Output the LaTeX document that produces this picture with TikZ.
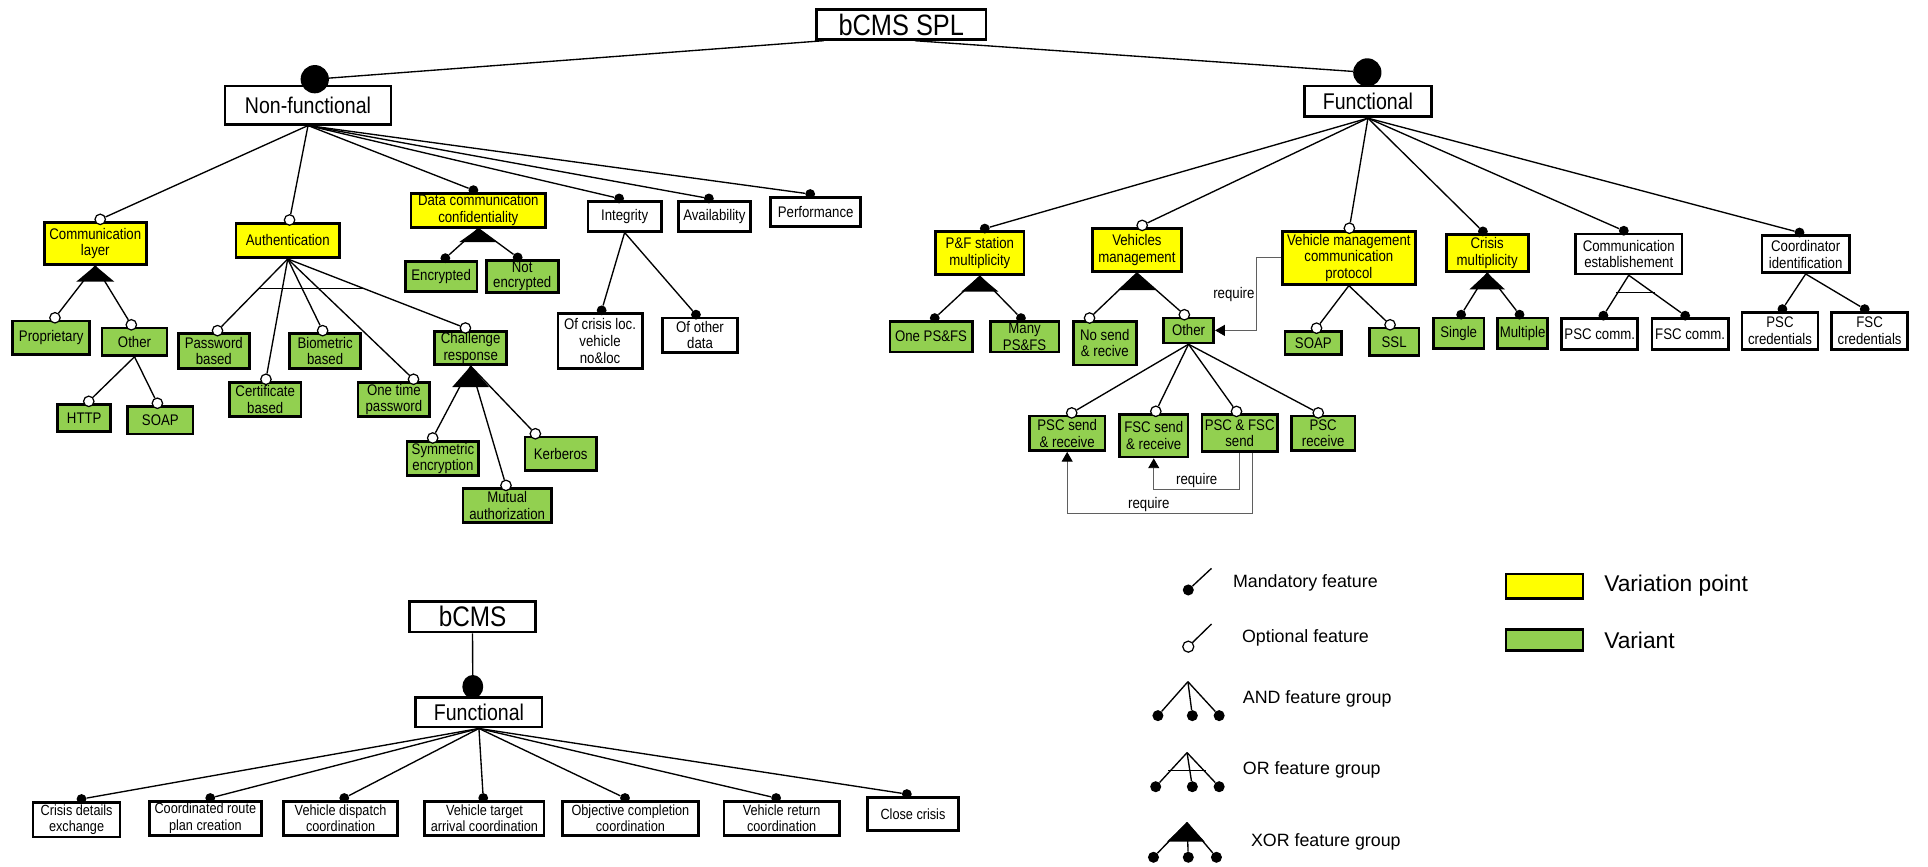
\documentclass[tikz,border=0pt]{standalone}
\usepackage{fontspec}
\setmainfont{Liberation Sans}
\newfontfamily\featfont[FakeStretch=0.86]{Liberation Sans}
\definecolor{VPYellow}{RGB}{255,255,0}
\definecolor{VarGreen}{RGB}{146,208,80}
\definecolor{ReqGray}{RGB}{95,95,95}
\usepackage{tikz}
\usetikzlibrary{arrows.meta, shapes.geometric, positioning, calc}

\tikzset{
  feat/.style={draw, line width=2.2pt, fill=white, align=center, inner sep=1pt,
    font=\featfont\fontsize{12.5}{13.6}\selectfont},
  vpoint/.style={feat, fill=VPYellow},
  variant/.style={feat, fill=VarGreen},
  taskbox/.style={feat, font=\featfont\fontsize{12}{13.6}\selectfont},
  sz/.style 2 args={minimum width=#1pt-2pt, minimum height=#2pt-2pt},
  fline/.style={line width=1.1pt},
  mdot/.style={circle, fill=black, inner sep=0pt, minimum size=8pt},
  odot/.style={circle, draw, fill=white, line width=1pt, inner sep=0pt, minimum size=8.5pt},
  bigdot/.style={ellipse, fill=black, inner sep=0pt, minimum width=23pt, minimum height=23pt},
  orbar/.style={line width=0.7pt},
  req/.style={draw=ReqGray, line width=0.8pt, -{Triangle[length=8pt,width=9pt,color=black]}},
  reqlbl/.style={font=\featfont\fontsize{12.5}{13}\selectfont, inner sep=1pt, text=black},
  lgtext/.style={font=\fontsize{14.5}{17}\selectfont, inner sep=1pt},
  lgbig/.style={font=\fontsize{18.5}{21}\selectfont, inner sep=1pt}
}

\begin{document}
\begin{tikzpicture}[x=1pt, y=-1pt]
\path[fill=white] (0,0) rectangle (1568,705);

\node[feat, sz={140}{26}, font=\featfont\fontsize{24}{26}\selectfont] (spl) at (733,20) {bCMS SPL};
\node[feat, sz={137}{33}, font=\featfont\fontsize{18.5}{20}\selectfont] (nonf) at (250.5,85.5) {Non-functional};
\node[feat, sz={105}{27}, font=\featfont\fontsize{18.5}{20}\selectfont] (func) at (1112.5,82.5) {Functional};

% non-functional side
\node[vpoint, sz={85}{36}] (comm) at (77.5,198) {Communication\\layer};
\node[vpoint, sz={86}{30}] (auth) at (234,195.5) {Authentication};
\node[vpoint, sz={111.5}{29.5}] (dcc) at (389,171) {Data communication\\confidentiality};
\node[feat, sz={61.5}{26}] (integ) at (508,176) {Integrity};
\node[feat, sz={60.6}{26}] (avail) at (581,176) {Availability};
\node[feat, sz={75}{26}] (perf) at (663.4,172.4) {Performance};

\node[variant, sz={64.7}{29.5}] (prop) at (41.7,274.8) {Proprietary};
\node[variant, sz={55}{24.3}] (other1) at (109.4,277.9) {Other};
\node[variant, sz={45}{24}] (http) at (68.5,340) {HTTP};
\node[variant, sz={55}{24.5}] (soap1) at (130.4,341.8) {SOAP};
\node[variant, sz={60}{30}] (pwd) at (173.9,285.5) {Password\\based};
\node[variant, sz={60.4}{29.7}] (cert) at (215.7,324.9) {Certificate\\based};
\node[variant, sz={60}{30}] (bio) at (264.4,285.5) {Biometric\\based};
\node[variant, sz={60.5}{29.7}] (otp) at (320.3,324.9) {One time\\password};
\node[variant, sz={60.4}{29.3}] (chal) at (382.8,283) {Challenge\\response};
\node[variant, sz={60.4}{30}] (sym) at (360.2,372.8) {Symmetric\\encryption};
\node[variant, sz={74}{29.3}] (mutual) at (412.5,411) {Mutual\\authorization};
\node[variant, sz={60}{29.3}] (kerb) at (456,369) {Kerberos};
\node[variant, sz={60.4}{26.5}] (enc) at (358.8,224.8) {Encrypted};
\node[variant, sz={60.5}{26.5}, font=\featfont\fontsize{12.5}{12.5}\selectfont] (notenc) at (424.7,224.8) {Not\\encrypted};
\node[feat, sz={70.5}{46.4}] (crisloc) at (488,277.2) {Of crisis loc.\\vehicle\\no\&loc};
\node[feat, sz={63.4}{30}] (othdata) at (569.3,272.5) {Of other\\data};

% functional side
\node[vpoint, sz={74}{37}] (pf) at (796.9,206) {P\&F station\\multiplicity};
\node[vpoint, sz={74}{37}] (vm) at (924.6,203.4) {Vehicles\\management};
\node[vpoint, sz={110}{45}] (vmcp) at (1097,209.7) {Vehicle management\\communication\\protocol};
\node[vpoint, sz={68.7}{32}] (cm) at (1209.5,205.8) {Crisis\\multiplicity};
\node[feat, sz={88.7}{34.5}] (ce) at (1324.6,206.5) {Communication\\establishement};
\node[feat, sz={73}{32}] (ci) at (1468.5,206.7) {Coordinator\\identification};

\node[variant, sz={69}{27}] (onepf) at (757.2,273.8) {One PS\&FS};
\node[variant, sz={58}{27}] (manypf) at (833.3,273.8) {Many\\PS\&FS};
\node[variant, sz={53.4}{37.5}] (nosend) at (898.5,279) {No send\\\& recive};
\node[variant, sz={43}{22.3}] (other2) at (966.6,268.7) {Other};
\node[variant, sz={63.3}{30}] (pscsr) at (867.9,352.4) {PSC send\\\& receive};
\node[variant, sz={57.6}{36.6}] (fscsr) at (938.3,354.4) {FSC send\\\& receive};
\node[variant, sz={63.3}{32}] (pfsend) at (1008.2,352.2) {PSC \& FSC\\send};
\node[variant, sz={53.6}{30}] (pscr) at (1076.1,352.4) {PSC\\receive};
\node[variant, sz={48}{21}] (soap2) at (1068.1,279) {SOAP};
\node[variant, sz={42.4}{24.3}] (ssl) at (1133.8,277.9) {SSL};
\node[variant, sz={43}{27}] (single) at (1186.3,271) {Single};
\node[variant, sz={43}{27}] (multi) at (1238.3,271) {Multiple};
\node[feat, sz={64}{27}] (pscc) at (1301,271.8) {PSC comm.};
\node[feat, sz={64}{27}] (fscc) at (1374.5,271.8) {FSC comm.};
\node[feat, sz={64}{32}] (pscred) at (1447.6,269) {PSC\\credentials};
\node[feat, sz={63.5}{32}] (fscred) at (1520.5,269) {FSC\\credentials};

% bCMS product
\node[feat, sz={104.7}{27}, font=\featfont\fontsize{23}{24}\selectfont] (bcms) at (384.3,501.5) {bCMS};
\node[feat, sz={104.8}{26.3}, font=\featfont\fontsize{18.5}{20}\selectfont] (bfunc) at (389.5,579.2) {Functional};
\node[taskbox, sz={72.7}{30.4}] (cde) at (62.3,666.6) {Crisis details\\exchange};
\node[taskbox, sz={93.4}{29.8}] (crpc) at (167,665.5) {Coordinated route\\plan creation};
\node[taskbox, sz={94.4}{29.8}] (vdc) at (277,665.5) {Vehicle dispatch\\coordination};
\node[taskbox, sz={99}{29.8}] (vtac) at (394,665.5) {Vehicle target\\arrival coordination};
\node[taskbox, sz={112.6}{29.8}] (occ) at (512.7,665.5) {Objective completion\\coordination};
\node[taskbox, sz={96}{29.8}] (vrc) at (635.7,665.5) {Vehicle return\\coordination};
\node[taskbox, sz={76.3}{29}] (cc) at (742.5,661.9) {Close crisis};

% root links
\coordinate (spl-l) at ([xshift=7pt]spl.south west);
\coordinate (spl-r) at ([xshift=11pt]spl.south);
\node[bigdot] (nonf-d) at ([xshift=5.5pt, yshift=4.5pt]nonf.north) {};
\node[bigdot] (func-d) at ([xshift=-0.5pt, yshift=10pt]func.north) {};
\draw[fline] (spl-l) -- (nonf-d);
\draw[fline] (spl-r) -- (func-d);
\node[bigdot, minimum width=17pt, minimum height=19pt] (bfunc-d) at ([xshift=-5pt, yshift=7.5pt]bfunc.north) {};
\draw[fline] (bcms.south) -- (bfunc-d);

% feature links
\foreach \n/\st/\dx in {comm/odot/4, auth/odot/1.5, dcc/mdot/-4, integ/mdot/-4.5, avail/mdot/-4.5, perf/mdot/-4.5}{
  \node[\st] (\n-d) at ([xshift=\dx pt, yshift=1.5pt]\n.north) {};
  \draw[fline] (nonf.south) -- (\n-d);
}
\foreach \n/\dx in {prop/3, other1/-2.6}{
  \node[odot] (\n-d) at ([xshift=\dx pt, yshift=1.5pt]\n.north) {};
  \draw[fline] (comm.south) -- (\n-d);
}
\foreach \n/\dx in {http/3.7, soap1/-2.4}{
  \node[odot] (\n-d) at ([xshift=\dx pt, yshift=1.5pt]\n.north) {};
  \draw[fline] (other1.south) -- (\n-d);
}
\foreach \n/\dx in {pwd/3, cert/0.6, bio/-2, otp/16, chal/-4.3}{
  \node[odot] (\n-d) at ([xshift=\dx pt, yshift=1.5pt]\n.north) {};
  \draw[fline] (auth.south) -- (\n-d);
}
\foreach \n/\dx in {sym/-8.3, mutual/-1, kerb/-20.6}{
  \node[odot] (\n-d) at ([xshift=\dx pt, yshift=1.5pt]\n.north) {};
  \draw[fline] (chal.south) -- (\n-d);
}
\foreach \n/\dx in {enc/3.4, notenc/-3.7}{
  \node[mdot] (\n-d) at ([xshift=\dx pt, yshift=1.5pt]\n.north) {};
  \draw[fline] (dcc.south) -- (\n-d);
}
\foreach \n/\dx in {crisloc/1.3, othdata/-3.3}{
  \node[mdot] (\n-d) at ([xshift=\dx pt, yshift=1.5pt]\n.north) {};
  \draw[fline] (integ.south) -- (\n-d);
}

\foreach \n/\st/\dx in {pf/mdot/4, vm/odot/4.3, vmcp/odot/0.4, cm/mdot/-3.5, ce/mdot/-4, ci/mdot/-5}{
  \node[\st] (\n-d) at ([xshift=\dx pt, yshift=1.5pt]\n.north) {};
  \draw[fline] (func.south) -- (\n-d);
}
\foreach \n/\dx in {onepf/3, manypf/-3}{
  \node[mdot] (\n-d) at ([xshift=\dx pt, yshift=1.5pt]\n.north) {};
  \draw[fline] (pf.south) -- (\n-d);
}
\foreach \n/\dx in {nosend/-12.4, other2/-3.4}{
  \node[odot] (\n-d) at ([xshift=\dx pt, yshift=1.5pt]\n.north) {};
  \draw[fline] (vm.south) -- (\n-d);
}
\foreach \n/\dx in {pscsr/3.7, fscsr/1.7, pfsend/-2.6, pscr/-4}{
  \node[odot] (\n-d) at ([xshift=\dx pt, yshift=1.5pt]\n.north) {};
  \draw[fline] (other2.south) -- (\n-d);
}
\foreach \n/\dx in {soap2/2.6, ssl/-3.3}{
  \node[odot] (\n-d) at ([xshift=\dx pt, yshift=1.5pt]\n.north) {};
  \draw[fline] (vmcp.south) -- (\n-d);
}
\foreach \n/\dx in {single/2, multi/-2.5}{
  \node[mdot] (\n-d) at ([xshift=\dx pt, yshift=1.5pt]\n.north) {};
  \draw[fline] (cm.south) -- (\n-d);
}
\foreach \n/\dx in {pscc/3, fscc/-4}{
  \node[mdot] (\n-d) at ([xshift=\dx pt, yshift=1.5pt]\n.north) {};
  \draw[fline] (ce.south) -- (\n-d);
}
\foreach \n/\dx in {pscred/2, fscred/-4}{
  \node[mdot] (\n-d) at ([xshift=\dx pt, yshift=1.5pt]\n.north) {};
  \draw[fline] (ci.south) -- (\n-d);
}
\foreach \n/\dx in {cde/4, crpc/4, vdc/3, vtac/-1, occ/-4.4, vrc/-4.5, cc/-5}{
  \node[mdot] (\n-d) at ([xshift=\dx pt, yshift=1.5pt]\n.north) {};
  \draw[fline] (bfunc.south) -- (\n-d);
}

% xor and or groups
\fill (comm.south) -- ++(-15.5,13) -- ++(31,0) -- cycle;
\fill (chal.south) -- ++(-15,17) -- ++(30,0) -- cycle;
\fill (dcc.south) -- ++(-15.5,11) -- ++(31,0) -- cycle;
\fill (pf.south) -- ++(-15,12.5) -- ++(30,0) -- cycle;
\fill (vm.south) -- ++(-15.5,14) -- ++(31,0) -- cycle;
\fill (cm.south) -- ++(-14.5,13.5) -- ++(29,0) -- cycle;
\draw[orbar] ($(auth.south)+(-23,24)$) -- ++(85,0);
\draw[orbar] ($(ce.south)+(-10,14.3)$) -- ++(31,0);

% require links
\draw[req] (vmcp.west) -- ++(-19.8,0) coordinate (vmcp-r)
  -- (vmcp-r |- other2.east) node[midway, left=0.5pt, reqlbl] {require} -- (other2.east);
\draw[req] (pfsend.south) -- ++(0,29.8) -| node[pos=0.25, above=0pt, reqlbl] {require} (fscsr.south);
\draw[req] ([xshift=10.6pt]pfsend.south) -- ++(0,49.3) -| node[pos=0.28, above=0pt, reqlbl] {require} (pscsr.south);

% legend
\coordinate (lg-m) at (985.3,462.2);
\node[mdot, minimum size=9pt] (lg-m-d) at (966.4,479.8) {};
\draw[fline] (lg-m) -- (lg-m-d);
\node[lgtext, anchor=west] (lg-m-t) at (1001.6,474.4) {Mandatory feature};

\coordinate (lg-o) at (985.3,507.5);
\node[odot, minimum size=9pt] (lg-o-d) at (966.4,525.9) {};
\draw[fline] (lg-o) -- (lg-o-d);
\node[lgtext, anchor=west] (lg-o-t) at (1008.9,519.1) {Optional feature};

\coordinate (lg-and) at (966.1,554.4);
\foreach \i/\x in {1/941.7, 2/969.7, 3/991.5}{
  \node[mdot, minimum size=9pt] (lg-and-\i) at (\x,582) {};
  \draw[fline] (lg-and) -- (lg-and-\i);
}
\node[lgtext, anchor=west] (lg-and-t) at (1009.6,568.5) {AND feature group};

\coordinate (lg-or) at (965.4,612.1);
\foreach \i/\x in {1/939.9, 2/969.7, 3/991.5}{
  \node[mdot, minimum size=9pt] (lg-or-\i) at (\x,639.8) {};
  \draw[fline] (lg-or) -- (lg-or-\i);
}
\draw[orbar] ($(lg-or)+(-15.4,14.1)$) -- ++(30.6,0);
\node[lgtext, anchor=west] (lg-or-t) at (1009.6,626.2) {OR feature group};

\coordinate (lg-xor) at (965.4,669);
\foreach \i/\x in {1/938.1, 2/966.4, 3/989.3}{
  \node[mdot, minimum size=9pt] (lg-xor-\i) at (\x,697.2) {};
  \draw[fline] (lg-xor) -- (lg-xor-\i);
}
\fill (lg-xor) -- ++(-16.4,15.5) -- ++(30.8,0) -- cycle;
\node[lgtext, anchor=west] (lg-xor-t) at (1016.2,684.5) {XOR feature group};

\node[vpoint, sz={64.6}{21.7}] (lg-vp) at (1256.1,476.6) {};
\node[lgbig, right=15pt of lg-vp] (lg-vp-t) {Variation point};
\node[variant, sz={64.6}{19}] (lg-var) at (1256.1,520.5) {};
\node[lgbig, right=15pt of lg-var] (lg-var-t) {Variant};
\end{tikzpicture}
\end{document}
